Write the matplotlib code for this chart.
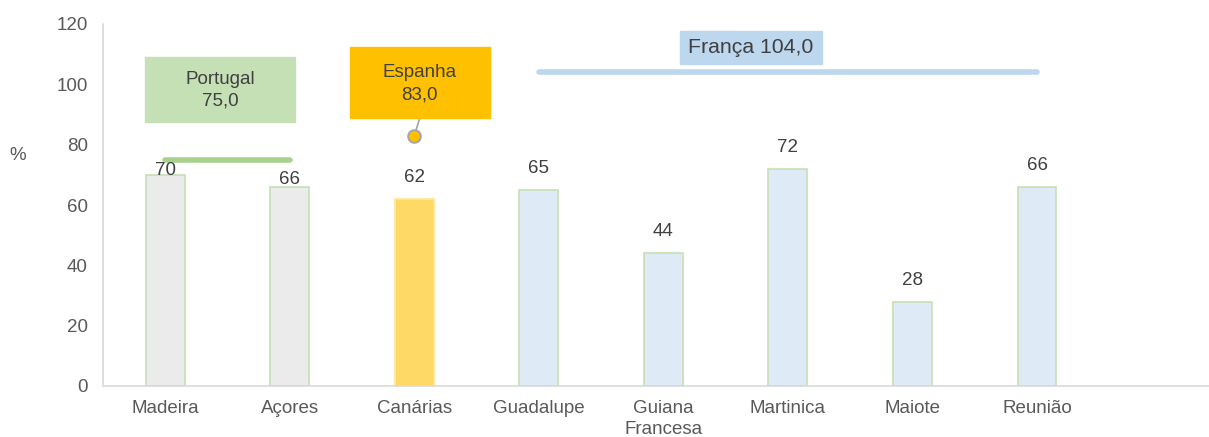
import matplotlib.pyplot as plt
from matplotlib.patches import Rectangle

plt.rcParams['font.family'] = ['Liberation Sans', 'DejaVu Sans']

# Data
regions = ['Madeira', 'Açores', 'Canárias', 'Guadalupe', 'Guiana\nFrancesa',
           'Martinica', 'Maiote', 'Reunião']
values = [70, 66, 62, 65, 44, 72, 28, 66]
country = ['PT', 'PT', 'ES', 'FR', 'FR', 'FR', 'FR', 'FR']
national = {'PT': 75.0, 'ES': 83.0, 'FR': 104.0}

fill = {'PT': '#EBEBEB', 'ES': '#FFD966', 'FR': '#DEEBF7'}
edge = {'PT': '#C5E0B4', 'ES': '#FFE699', 'FR': '#C5E0B4'}
txt = '#404040'

fig = plt.figure(figsize=(12.09, 4.37), dpi=100)
ax = fig.add_axes([103 / 1209, 1 - 386 / 437, 1 - 103 / 1209, (386 - 24) / 437])

x = list(range(len(regions)))
ax.bar(x, values, width=0.313,
       color=[fill[c] for c in country],
       edgecolor=[edge[c] for c in country], linewidth=1.2, zorder=2)

# value labels (first two sit on the bar top)
for i, v in enumerate(values):
    off = {0: 3, 1: 5}.get(i, 15.5)
    ax.annotate(str(v), (i, v), xytext=(0, off), textcoords='offset points',
                ha='center', va='center', fontsize=13.5, color=txt, zorder=5)

# Portugal reference line and label
pt_x = [i for i, c in enumerate(country) if c == 'PT']
ax.plot([pt_x[0], pt_x[-1]], [national['PT']] * 2, color='#A9D18E', lw=4,
        solid_capstyle='round', zorder=3)
ax.add_patch(Rectangle((-0.165, 87.5), 1.205, 21.5, color='#C5E0B4', zorder=3))
ax.text(0.438, 98.0, 'Portugal\n{:.1f}'.format(national['PT']).replace('.', ','),
        ha='center', va='center', fontsize=13.5, color=txt, linespacing=1.4, zorder=4)

# Spain point and label
es_x = country.index('ES')
ax.plot([es_x, 2.044], [national['ES'], 88.9], color='#A6A6A6', lw=1.2, zorder=3)
ax.plot(es_x, national['ES'], 'o', ms=9, mfc='#FFC000', mec='#A6A6A6', mew=1.5, zorder=4)
ax.add_patch(Rectangle((1.482, 88.9), 1.124, 23.6, color='#FFC000', zorder=3))
ax.text(2.044, 100.3, 'Espanha\n{:.1f}'.format(national['ES']).replace('.', ','),
        ha='center', va='center', fontsize=13.5, color=txt, linespacing=1.4, zorder=4)

# France reference line and label
fr_x = [i for i, c in enumerate(country) if c == 'FR']
ax.plot([fr_x[0], fr_x[-1]], [national['FR']] * 2, color='#BDD7EE', lw=4,
        solid_capstyle='round', zorder=3)
ax.add_patch(Rectangle((4.133, 106.8), 1.14, 10.9, color='#BDD7EE', zorder=3))
ax.text(4.703, 112.25, 'França {:.1f}'.format(national['FR']).replace('.', ','),
        ha='center', va='center', fontsize=15.3, color=txt, zorder=4)

# Axes formatting
ax.set_xlim(-0.5, -0.5 + (1209 - 103.3) / 124.5)
ax.set_ylim(0, 120)
ax.set_yticks(range(0, 121, 20))
ax.set_xticks(x)
ax.set_xticklabels(regions, linespacing=1.3)
ax.tick_params(length=0, labelsize=13.5, labelcolor='#595959')
ax.tick_params(axis='y', pad=11)
ax.tick_params(axis='x', pad=10)
for s in ['top', 'right']:
    ax.spines[s].set_visible(False)
for s in ['left', 'bottom']:
    ax.spines[s].set_color('#D9D9D9')
    ax.spines[s].set_linewidth(1.2)
ax.spines['bottom'].set_zorder(3)

fig.text(18 / 1209, 1 - 155 / 437, '%', ha='center', va='center',
         fontsize=13.5, color='#595959')

fig.savefig('out.png', dpi=100)
